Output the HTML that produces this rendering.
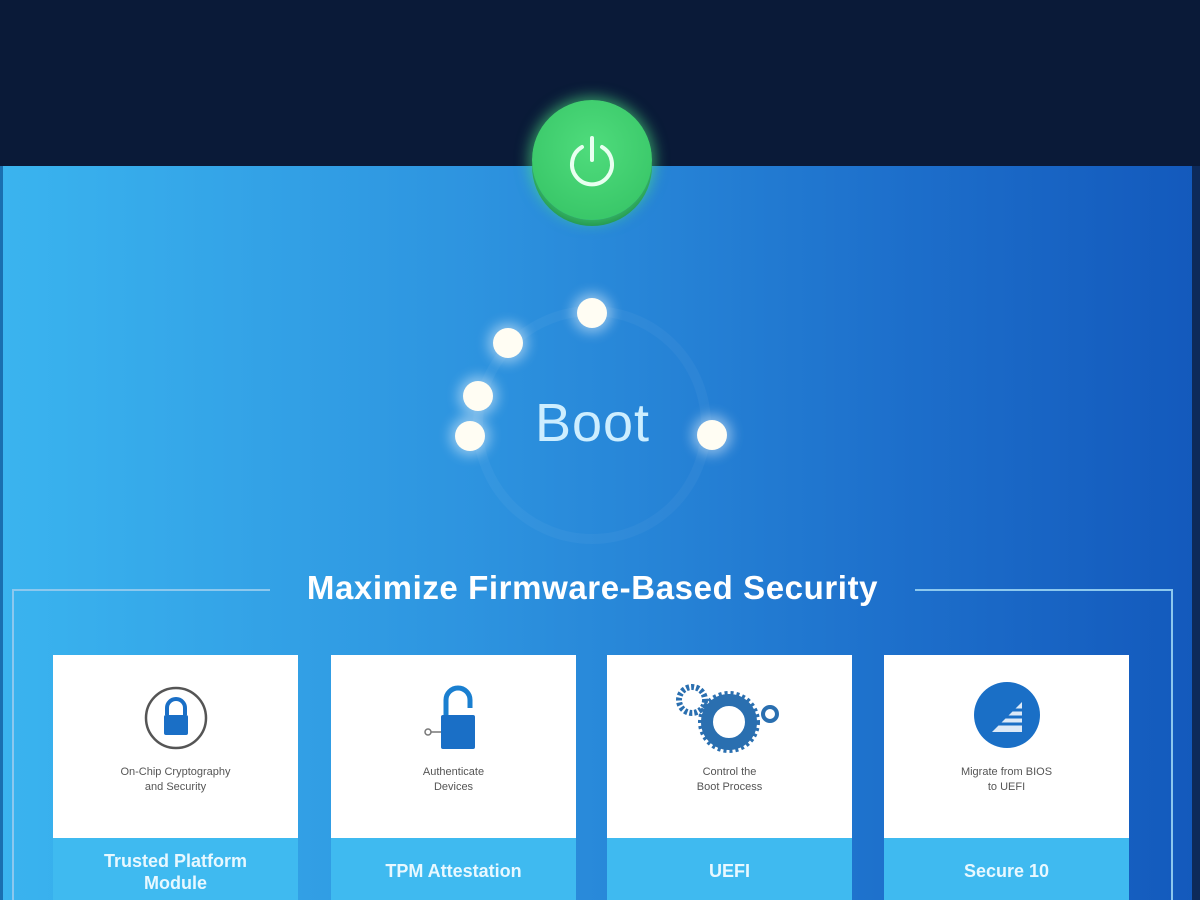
<!DOCTYPE html>
<html><head><meta charset="utf-8"><style>
*{margin:0;padding:0;box-sizing:border-box}
body{width:1200px;height:900px;overflow:hidden;position:relative;font-family:"Liberation Sans",sans-serif;background:#0a1a38}
.top{position:absolute;left:0;top:0;width:1200px;height:166px;background:#0a1a38}
.main{position:absolute;left:0;top:166px;width:1200px;height:734px;background:linear-gradient(90deg,#3ab4ef 0%,#2d93df 40%,#1d6fcb 75%,#1359bc 100%)}
.edge{position:absolute;left:1192px;top:166px;width:8px;height:734px;background:#0d2a5a}
.ledge{position:absolute;left:0;top:166px;width:3px;height:734px;background:#1a6fb0}
.pw{position:absolute;left:532px;top:100px;width:120px;height:120px;border-radius:50%;background:radial-gradient(circle at 50% 40%,#4fdc7c,#33c163);box-shadow:0 0 14px 3px rgba(80,230,130,.6),0 6px 0 #1e8a48}
.dot{position:absolute;width:30px;height:30px;border-radius:50%;background:#fffdf3;box-shadow:0 0 12px 5px rgba(255,255,255,.45)}
.boot{position:absolute;left:520px;top:392px;width:145px;text-align:center;font-size:54px;color:#cdeeff;font-weight:300;letter-spacing:1px}
.title{position:absolute;left:270px;top:569px;width:645px;text-align:center;font-size:33px;font-weight:bold;color:#fff;letter-spacing:0.6px}
.ln{position:absolute;background:#8cc8ee}
.card{position:absolute;top:655px;width:245px;height:245px}
.card .w{height:183px;background:#fff;text-align:center;font-size:11px;color:#555;line-height:15px;position:relative}
.card .w .t{position:absolute;left:0;right:0;top:110px}
.card .b{height:62px;background:#3fbaf0;color:#e8f8ff;text-align:center;font-size:18px;font-weight:bold;padding-top:16px;line-height:22px}
</style></head><body>
<div class="top"></div>
<div class="main"></div>
<div class="ledge"></div>
<div class="edge"></div>
<svg style="position:absolute;left:0;top:0" width="1200" height="900"><circle cx="592" cy="425" r="114" fill="none" stroke="rgba(255,255,255,0.04)" stroke-width="10"/></svg>
<div class="pw"><svg width="120" height="120"><path d="M50 47 A20 20 0 1 0 70 47" fill="none" stroke="#e8fff0" stroke-width="4" stroke-linecap="round"/><line x1="60" y1="38" x2="60" y2="60" stroke="#e8fff0" stroke-width="4" stroke-linecap="round"/></svg></div>
<div class="dot" style="left:577px;top:298px"></div>
<div class="dot" style="left:493px;top:328px"></div>
<div class="dot" style="left:463px;top:381px"></div>
<div class="dot" style="left:455px;top:421px"></div>
<div class="dot" style="left:697px;top:420px"></div>
<div class="boot">Boot</div>
<div class="title">Maximize Firmware-Based Security</div>
<div class="ln" style="left:12px;top:589px;width:258px;height:2px"></div>
<div class="ln" style="left:915px;top:589px;width:258px;height:2px"></div>
<div class="ln" style="left:12px;top:589px;width:2px;height:311px"></div>
<div class="ln" style="left:1171px;top:589px;width:2px;height:311px"></div>
<div class="card" style="left:53px"><div class="w">
<svg style="position:absolute;left:90px;top:30px" width="66" height="66"><circle cx="33" cy="33" r="30" fill="none" stroke="#555" stroke-width="2.5"/><path d="M24 30 v-7 a9 9 0 0 1 18 0 v7" fill="none" stroke="#1a6fc6" stroke-width="4"/><rect x="21" y="30" width="24" height="20" rx="2" fill="#1a6fc6"/></svg>
<div class="t">On-Chip Cryptography<br>and Security</div></div><div class="b" style="padding-top:12px">Trusted Platform<br>Module</div></div>
<div class="card" style="left:331px"><div class="w">
<svg style="position:absolute;left:85px;top:25px" width="70" height="80"><path d="M30 35 v-15 a12 12 0 0 1 24 0 v8" fill="none" stroke="#1a7fd0" stroke-width="5"/><rect x="25" y="35" width="34" height="34" rx="2" fill="#1a6fc6"/><circle cx="12" cy="52" r="3" fill="none" stroke="#777" stroke-width="1.5"/><line x1="15" y1="52" x2="25" y2="52" stroke="#777" stroke-width="1.5"/></svg>
<div class="t">Authenticate<br>Devices</div></div><div class="b" style="padding-top:22px">TPM Attestation</div></div>
<div class="card" style="left:607px"><div class="w">
<svg style="position:absolute;left:65px;top:25px" width="115" height="75"><circle cx="20" cy="20" r="13" fill="none" stroke="#2a6fb0" stroke-width="6" stroke-dasharray="3 2"/><circle cx="57" cy="42" r="22" fill="none" stroke="#2a6fb0" stroke-width="12"/><circle cx="57" cy="42" r="29" fill="none" stroke="#2a6fb0" stroke-width="4" stroke-dasharray="3 3"/><circle cx="98" cy="34" r="7" fill="none" stroke="#2a6fb0" stroke-width="4"/></svg>
<div class="t">Control the<br>Boot Process</div></div><div class="b" style="padding-top:22px">UEFI</div></div>
<div class="card" style="left:884px"><div class="w">
<svg style="position:absolute;left:88px;top:25px" width="70" height="70"><circle cx="35" cy="35" r="33" fill="#1a6fc6"/><path d="M20 52 L50 22 L50 52 Z" fill="#fff" opacity=".85"/><path d="M20 44 h30 M20 37 h30 M20 30 h30" stroke="#1a6fc6" stroke-width="3"/></svg>
<div class="t">Migrate from BIOS<br>to UEFI</div></div><div class="b" style="padding-top:22px">Secure 10</div></div>
</body></html>
